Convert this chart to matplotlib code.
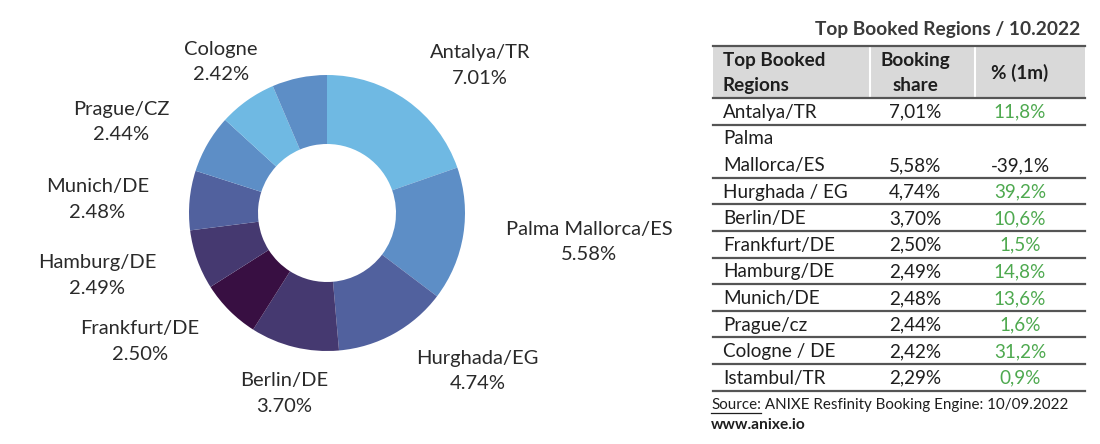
import textwrap
import matplotlib
matplotlib.use("Agg")
import matplotlib.pyplot as plt
from matplotlib.patches import Rectangle

# ---------------- data ----------------
pie_regions = ["Antalya/TR", "Palma Mallorca/ES", "Hurghada/EG", "Berlin/DE",
               "Frankfurt/DE", "Hamburg/DE", "Munich/DE", "Prague/CZ", "Cologne",
               "Istambul/TR"]
pie_shares = [7.01, 5.58, 4.74, 3.70, 2.50, 2.49, 2.48, 2.44, 2.42, 2.29]
pie_show_label = [True, True, True, True, True, True, True, True, True, False]

table_title = "Top Booked Regions / 10.2022"
table_header = ["Top Booked\nRegions", "Booking\nshare", "% (1m)"]
table_regions = ["Antalya/TR", "Palma Mallorca/ES", "Hurghada / EG", "Berlin/DE",
                 "Frankfurt/DE", "Hamburg/DE", "Munich/DE", "Prague/cz",
                 "Cologne / DE", "Istambul/TR"]
table_shares = ["7,01%", "5,58%", "4,74%", "3,70%", "2,50%", "2,49%", "2,48%",
                "2,44%", "2,42%", "2,29%"]
table_change = [11.8, -39.1, 39.2, 10.6, 1.5, 14.8, 13.6, 1.6, 31.2, 0.9]
source_label = "Source:"
source_text = " ANIXE Resfinity Booking Engine: 10/09.2022"
website = "www.anixe.io"

# ---------------- style ----------------
colors = ["#6FB9E3", "#5D8EC6", "#51619E", "#453970", "#380F42",
          "#453970", "#51619E", "#5D8EC6", "#6FB9E3", "#5D8EC6"]
FONT = "Lato"
TXT = "#1E1E1E"
GREEN = "#4EA94F"

W, H = 1100, 444
fig = plt.figure(figsize=(W / 100, H / 100), dpi=100)

# pie axes: full figure, 1 data unit = R pixels
cx, cy, R = 327, 213, 138
axp = fig.add_axes([0, 0, 1, 1])
wedges, _ = axp.pie(pie_shares, colors=colors, startangle=90, counterclock=False,
                    radius=1.0, wedgeprops=dict(width=0.5, linewidth=0),
                    center=(0, 0), frame=True)
axp.set_xlim(-cx / R, (W - cx) / R)
axp.set_ylim(-(H - cy) / R, cy / R)
axp.set_aspect("auto")
axp.axis("off")

# label layout (pie-radius units, relative to centre)
label_pos = [(1.11, 1.07), (1.90, -0.21), (1.09, -1.145), (-0.31, -1.31),
             (-1.355, -0.93), (-1.665, -0.455), (-1.665, 0.10), (-1.49, 0.66),
             (-0.77, 1.095), (0, 0)]
for name, val, show, (lx, ly) in zip(pie_regions, pie_shares, pie_show_label, label_pos):
    if not show:
        continue
    axp.text(lx, ly, f"{name}\n{val:.2f}%", ha="center", va="center",
             fontsize=14.5, family=FONT, color="#2A2A2A", linespacing=1.62)

# table axes in pixel coords
axt = fig.add_axes([0, 0, 1, 1])
axt.set_xlim(0, W)
axt.set_ylim(H, 0)
axt.axis("off")
axt.patch.set_alpha(0)

x0, x1 = 713, 1085
col_div = [870, 975]
col_c = [723, 915, 1020]
top, head_bot = 46, 98
line_h = 26.6
FS = 13.6

axt.text(1080, 29, table_title, ha="right", va="center", fontsize=13.8,
         fontweight="bold", family=FONT, color="#3A3A3A")
axt.add_patch(Rectangle((x0, top), x1 - x0, head_bot - top, facecolor="#D9D9D9",
                        edgecolor="none"))
for xd in col_div:
    axt.plot([xd, xd], [top, head_bot], color="white", lw=1.5)
axt.plot([x0, x1], [top, top], color="#555555", lw=1.6)
axt.plot([x0, x1], [head_bot, head_bot], color="#555555", lw=1.6)
hy = (top + head_bot) / 2 + 1
axt.text(col_c[0], hy, table_header[0], ha="left", va="center", fontsize=FS,
         fontweight="bold", family=FONT, color=TXT, linespacing=1.62)
axt.text(col_c[1], hy, table_header[1], ha="center", va="center", fontsize=FS,
         fontweight="bold", family=FONT, color=TXT, linespacing=1.62)
axt.text(col_c[2], hy, table_header[2], ha="center", va="center", fontsize=FS,
         fontweight="bold", family=FONT, color=TXT)

y = head_bot
for name, share, chg in zip(table_regions, table_shares, table_change):
    lines = textwrap.wrap(name, width=13)
    n = len(lines)
    for i, ln in enumerate(lines):
        axt.text(col_c[0], y + line_h * (i + 0.5) + 1, ln, ha="left", va="center",
                 fontsize=FS, family=FONT, color=TXT)
    yl = y + line_h * (n - 0.5) + 1
    axt.text(col_c[1], yl, share, ha="center", va="center", fontsize=FS,
             family=FONT, color=TXT)
    axt.text(col_c[2], yl, f"{chg:.1f}%".replace(".", ","), ha="center",
             va="center", fontsize=FS, family=FONT,
             color=GREEN if chg > 0 else TXT)
    y += line_h * n
    axt.plot([x0, x1], [y, y], color="#555555", lw=1.6)

t1 = axt.text(711, 405, source_label, ha="left", va="center", fontsize=10.9,
              family=FONT, color=TXT)
fig.canvas.draw()
bb = t1.get_window_extent()
xs0, xs1 = bb.x0, bb.x1
axt.plot([xs0, xs1], [413, 413], color=TXT, lw=0.9)
axt.text(xs1, 405, source_text, ha="left", va="center", fontsize=10.9,
         family=FONT, color=TXT)
axt.text(711, 425, website, ha="left", va="center", fontsize=11.2,
         fontweight="bold", family=FONT, color=TXT)

fig.savefig("out.png", dpi=100, facecolor="white")
